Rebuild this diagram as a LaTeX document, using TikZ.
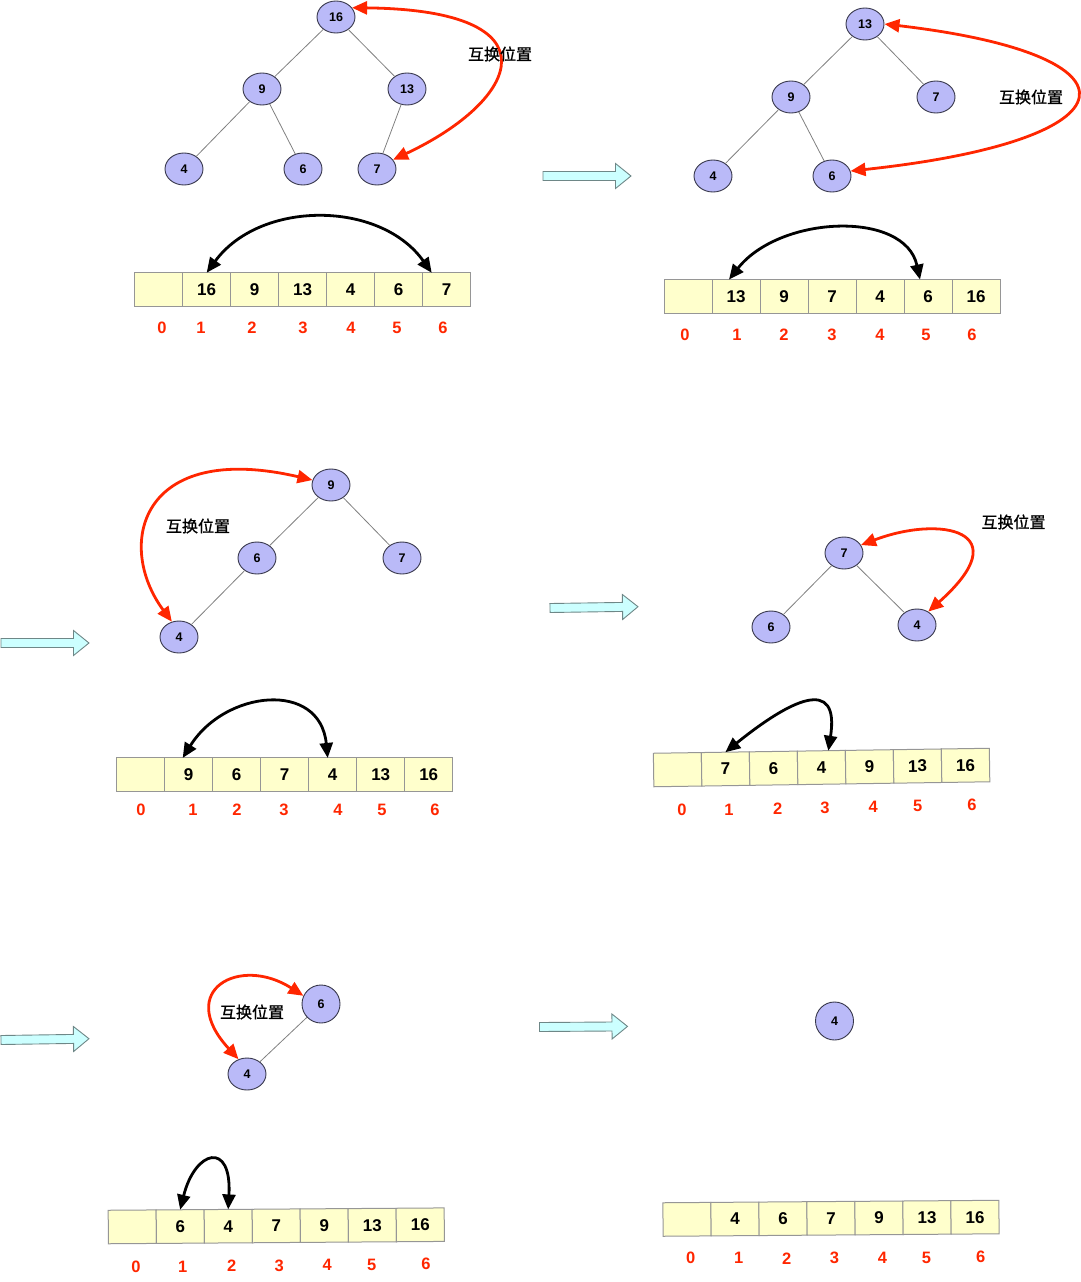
\documentclass[tikz,border=0pt]{standalone}
\usepackage{fontspec}
\setmainfont{Liberation Sans}
\newfontfamily\cjkfont[FakeBold=1.2]{Noto Sans CJK SC}
\usetikzlibrary{arrows.meta, shapes.geometric, calc}
\definecolor{heapblue}{RGB}{186,186,248}
\definecolor{heapline}{RGB}{55,55,75}
\definecolor{cellyellow}{RGB}{255,255,204}
\definecolor{cellline}{RGB}{150,150,150}
\definecolor{swapred}{RGB}{255,38,0}
\definecolor{stepcyan}{RGB}{204,255,255}
\definecolor{stepline}{RGB}{110,135,135}

\begin{document}
\begin{tikzpicture}[x=1pt, y=-1pt,
  heap/.style={ellipse, draw=heapline, fill=heapblue, line width=0.9pt,
               minimum width=38pt, minimum height=32pt, inner sep=0pt,
               font=\fontsize{12.5}{13}\selectfont\bfseries},
  heapround/.style={heap, minimum height=38pt},
  cell/.style={draw=cellline, fill=cellyellow, line width=1pt,
               minimum width=48pt, minimum height=33.5pt, inner sep=0pt,
               outer sep=0pt, font=\fontsize{17}{18}\selectfont\bfseries},
  idx/.style={text=swapred, inner sep=0pt,
              font=\fontsize{16.5}{17}\selectfont\bfseries},
  note/.style={inner sep=0pt, font=\fontsize{16}{18}\selectfont\cjkfont},
  edge/.style={draw=gray, line width=0.8pt},
  swaparc/.style={draw=swapred, line width=2.8pt,
                  {Triangle[length=15pt,width=13pt]}-{Triangle[length=15pt,width=13pt]}},
  movearc/.style={draw=black, line width=2.8pt,
                  {Triangle[length=15pt,width=13pt]}-{Triangle[length=15pt,width=13pt]}},
  steparrow/.pic={\draw[fill=stepcyan, draw=stepline, line width=0.9pt]
      (0,-4.5) -- (72.5,-4.5) -- (72.5,-12.5) -- (88,0) -- (72.5,12.5)
      -- (72.5,4.5) -- (0,4.5) -- cycle;}
]
\useasboundingbox (0,0) rectangle (1080,1282);

%--- Panel 1: heap with 16 on top ---
\node[heap] (p1-16) at (336,17)  {16};
\node[heap] (p1-9)  at (262,89)  {9};
\node[heap] (p1-13) at (407,89)  {13};
\node[heap] (p1-4)  at (184,169) {4};
\node[heap] (p1-6)  at (303,169) {6};
\node[heap] (p1-7)  at (377,169) {7};
\draw[edge] (p1-16) -- (p1-9);
\draw[edge] (p1-16) -- (p1-13);
\draw[edge] (p1-9)  -- (p1-4);
\draw[edge] (p1-9)  -- (p1-6);
\draw[edge] (p1-13) -- (p1-7);
\draw[swaparc] (p1-16.30) .. controls (560,10) and (520,100) .. (p1-7.30);
\node[note] (n1) at (500,54) {互换位置};

% array 1
\foreach \v [count=\i from 0] in {{},16,9,13,4,6,7}
  \node[cell] (a1-\i) at ({158.7+48*\i},289.5) {\v};
\foreach \x [count=\i from 0] in {162,201,252,303,351,397,443}
  \node[idx] (i1-\i) at (\x,328) {\i};
\draw[movearc] (a1-1.north) .. controls (260,200) and (380,200)
  .. ($(a1-6.north west)+(9,0)$);

\pic at (543,176) {steparrow};

%--- Panel 2: heap with 13 on top ---
\node[heap] (p2-13) at (865,24)  {13};
\node[heap] (p2-9)  at (791,97)  {9};
\node[heap] (p2-7)  at (936,97)  {7};
\node[heap] (p2-4)  at (713,176) {4};
\node[heap] (p2-6)  at (832,176) {6};
\draw[edge] (p2-13) -- (p2-9);
\draw[edge] (p2-13) -- (p2-7);
\draw[edge] (p2-9)  -- (p2-4);
\draw[edge] (p2-9)  -- (p2-6);
\draw[swaparc] (p2-13.east) .. controls (1150,55) and (1140,140) .. (p2-6.15);
\node[note] (n2) at (1031,97) {互换位置};

% array 2
\foreach \v [count=\i from 0] in {{},13,9,7,4,6,16}
  \node[cell] (a2-\i) at ({688+48*\i},296.3) {\v};
\foreach \x [count=\i from 0] in {685,737,784,832,880,926,972}
  \node[idx] (i2-\i) at (\x,334.5) {\i};
\draw[movearc] ($(a2-1.north)+(-7,0)$) .. controls (780,215) and (905,210)
  .. ($(a2-5.north west)+(16,0)$);

\pic at (1,643) {steparrow};

%--- Panel 3: heap with 9 on top ---
\node[heap] (p3-9) at (331,485) {9};
\node[heap] (p3-6) at (257,558) {6};
\node[heap] (p3-7) at (402,558) {7};
\node[heap] (p3-4) at (179,637) {4};
\draw[edge] (p3-9) -- (p3-6);
\draw[edge] (p3-9) -- (p3-7);
\draw[edge] (p3-6) -- (p3-4);
\draw[swaparc] (p3-9.165) .. controls (140,440) and (115,545) .. (p3-4.115);
\node[note] (n3) at (198,526) {互换位置};

% array 3
\foreach \v [count=\i from 0] in {{},9,6,7,4,13,16}
  \node[cell] (a3-\i) at ({140.7+48*\i},774.7) {\v};
\foreach \x [count=\i from 0] in {141,193,237,284,338,382,435}
  \node[idx] (i3-\i) at (\x,810) {\i};
\draw[movearc] ($(a3-1.north)+(-6,0)$) .. controls (225,690) and (320,680)
  .. ($(a3-4.north west)+(19,0)$);

\pic[rotate=0.85] at (550,608) {steparrow};

%--- Panel 4: heap with 7 on top ---
\node[heap] (p4-7) at (844,553) {7};
\node[heap] (p4-6) at (771,627) {6};
\node[heap] (p4-4) at (917,625) {4};
\draw[edge] (p4-7) -- (p4-6);
\draw[edge] (p4-7) -- (p4-4);
\draw[swaparc] (p4-7.25) .. controls (940,515) and (1020,530) .. (p4-4.50);
\node[note] (n4) at (1013.5,522) {互换位置};

% array 4 (slightly tilted)
\begin{scope}[shift={(653.6,770)}, rotate=0.85, transform shape]
  \foreach \v [count=\i from 0] in {{},7,6,4,9,13,16}
    \node[cell] (a4-\i) at ({24+48*\i},0) {\v};
\end{scope}
\foreach \x/\y [count=\i from 0] in {682/809.5,729/809.5,777.6/808.5,825/807.5,
                                     873.3/807,917.8/806,972/805}
  \node[idx] (i4-\i) at (\x,\y) {\i};
\draw[movearc] (a4-1.north) .. controls (790,700) and (840,675)
  .. ($(a4-3.north)+(7,0)$);

\pic[rotate=0.85] at (1,1040) {steparrow};

%--- Panel 5: heap with 6 on top ---
\node[heapround] (p5-6) at (321,1004) {6};
\node[heap]      (p5-4) at (247,1074) {4};
\draw[edge] (p5-6) -- (p5-4);
\draw[swaparc] (p5-6.155) .. controls (240,955) and (175,990) .. (p5-4.120);
\node[note] (n5) at (252,1012) {互换位置};

% array 5
\begin{scope}[shift={(108.3,1227)}, rotate=0.4, transform shape]
  \foreach \v [count=\i from 0] in {{},6,4,7,9,13,16}
    \node[cell] (a5-\i) at ({24+48*\i},0) {\v};
\end{scope}
\foreach \x/\y [count=\i from 0] in {136/1266.7,182.7/1266.7,231.7/1266,
                                     279.3/1265.7,327.3/1265,371.7/1265,426/1264.3}
  \node[idx] (i5-\i) at (\x,\y) {\i};
\draw[movearc] (a5-1.north) .. controls (195,1150) and (232,1140) .. (a5-2.north);

\pic[rotate=0.4] at (539.5,1027) {steparrow};

%--- Panel 6: single node left ---
\node[heapround] (p6-4) at (834.5,1021) {4};

% array 6
\begin{scope}[shift={(663,1219.5)}, rotate=0.42, transform shape]
  \foreach \v [count=\i from 0] in {{},4,6,7,9,13,16}
    \node[cell] (a6-\i) at ({24+48*\i},0) {\v};
\end{scope}
\foreach \x/\y [count=\i from 0] in {690.6/1258.3,738.7/1258.3,786.8/1258.3,
                                     834.5/1258.3,882.5/1257.7,926.4/1257.7,980.7/1256.7}
  \node[idx] (i6-\i) at (\x,\y) {\i};

\end{tikzpicture}
\end{document}
